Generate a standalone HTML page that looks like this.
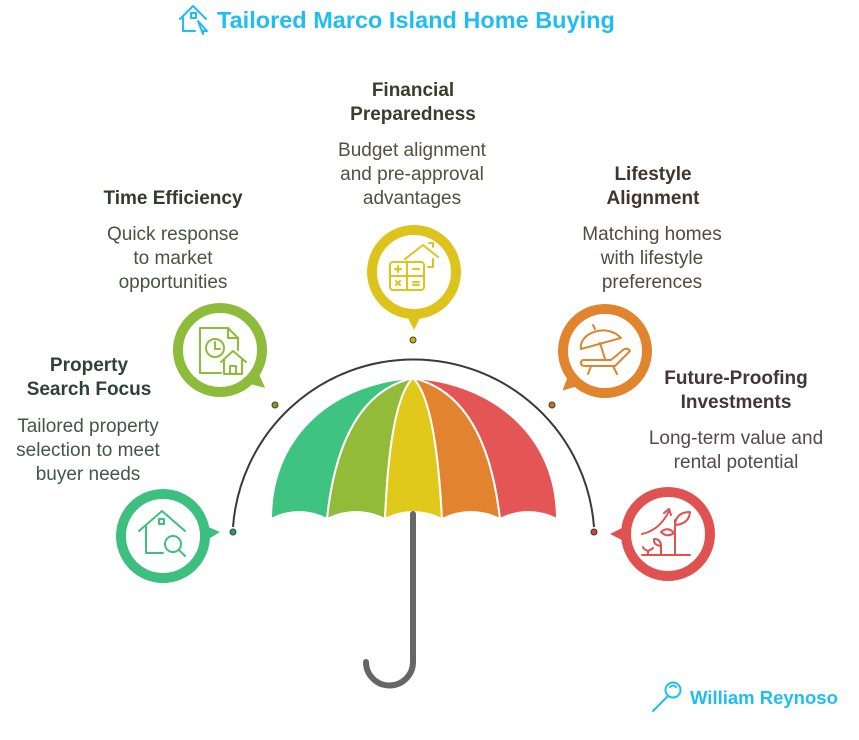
<!DOCTYPE html>
<html><head><meta charset="utf-8"><style>
html,body{margin:0;padding:0;background:#fff;}
svg{display:block;}
text{font-family:"Liberation Sans",Arial,sans-serif;}
.t{font-weight:bold;font-size:19px;}
.b{font-size:19px;}
</style></head><body>
<svg width="859" height="740" viewBox="0 0 859 740" xmlns="http://www.w3.org/2000/svg">
<!-- Title -->
<g fill="none" stroke="#20bdf2" stroke-width="2" stroke-linecap="round" stroke-linejoin="round">
<path d="M180,19 L193,6 L206,19"/>
<path d="M183,17 L183,31 L195,31"/>
<rect x="191" y="13" width="5" height="5"/>
<path d="M198,21 L207,31 L203,31 L203,34 Z"/>
</g>
<text x="217" y="28" font-size="23.5" font-weight="bold" fill="#20bdf2" font-family="Liberation Sans, Arial, sans-serif">Tailored Marco Island Home Buying</text>

<!-- connector arc -->
<path d="M233,527 A181,181 0 0 1 594,527" fill="none" stroke="#3a3a3a" stroke-width="2"/>
<circle cx="233" cy="532" r="3" fill="#2f9a66" stroke="#2a4a3a" stroke-width="1"/>
<circle cx="275" cy="405" r="3" fill="#7f9a2f" stroke="#3f4a2a" stroke-width="1"/>
<circle cx="413" cy="340" r="3" fill="#c6b11a" stroke="#4a4620" stroke-width="1"/>
<circle cx="552" cy="405" r="3" fill="#c4702a" stroke="#4a3a2a" stroke-width="1"/>
<circle cx="594" cy="532" r="3" fill="#c24848" stroke="#4a2a2a" stroke-width="1"/>

<!-- Umbrella canopy panels -->
<g stroke="#fff" stroke-width="2" stroke-linejoin="round">
<path d="M413,378 C340,382 271,430 271,519 Q299,505 327,519 Q340,395 413,378 Z" fill="#3fc381"/>
<path d="M413,378 Q340,395 327,519 Q356,505 385,519 Q390,400 413,378 Z" fill="#93bb3a"/>
<path d="M413,378 Q390,400 385,519 Q413,505 442,519 Q436,400 413,378 Z" fill="#e0c91a"/>
<path d="M413,378 Q436,400 442,519 Q471,505 500,519 Q486,395 413,378 Z" fill="#e2842f"/>
<path d="M413,378 Q486,395 500,519 Q528,505 557,519 C557,430 486,382 413,378 Z" fill="#e45656"/>
</g>
<!-- handle -->
<path d="M413,514 L413,662 A23.5,23.5 0 0 1 366,662" fill="none" stroke="#666" stroke-width="6" stroke-linecap="round"/>

<!-- Circles -->
<!-- green -->
<polygon points="201,526 220,536 201,546" fill="#3dbf80" transform="rotate(-4 163 536)"/>
<circle cx="163" cy="536" r="42" fill="#fff" stroke="#3dbf80" stroke-width="10"/>
<g fill="none" stroke="#3dbf80" stroke-width="2" stroke-linecap="round" stroke-linejoin="round">
<path d="M139,531 L162,511 L185,531"/>
<path d="M146,526 L146,553 L163,553"/>
<rect x="159" y="519" width="5" height="5"/>
<circle cx="173" cy="544" r="8"/>
<path d="M179,550 L185,556"/>
</g>
<!-- time (olive) -->
<polygon points="258,340 279,350 258,360" fill="#8dbb3a" transform="rotate(40 220 350)"/>
<circle cx="220" cy="350" r="42" fill="#fff" stroke="#8dbb3a" stroke-width="10"/>
<g fill="none" stroke="#8dbb3a" stroke-width="2" stroke-linecap="round" stroke-linejoin="round">
<path d="M221,373 L200,373 L200,328 L228,328 L238,338 L238,350"/>
<path d="M228,328 L228,338 L238,338"/>
<circle cx="215" cy="348" r="9" fill="#fff"/>
<path d="M215,342 L215,349 L220,349"/>
<path d="M221,362 L233,351 L246,362" />
<path d="M224,359 L224,374 L242,374 L242,359"/>
<path d="M230,374 L230,366 L236,366 L236,374"/>
</g>
<!-- financial (yellow) -->
<polygon points="452,262 472,272 452,282" fill="#dcc41c" transform="rotate(90 414 272)"/>
<circle cx="414" cy="272" r="42" fill="#fff" stroke="#dcc41c" stroke-width="10"/>
<g fill="none" stroke="#dcc41c" stroke-width="2" stroke-linecap="round" stroke-linejoin="round">
<rect x="390" y="262" width="34" height="28" rx="3"/>
<path d="M407,262 L407,290 M390,276 L424,276"/>
<path d="M395,269 L401,269 M398,266 L398,272"/>
<path d="M413,269 L419,269"/>
<path d="M396,281 L400,285 M400,281 L396,285"/>
<path d="M413,282 L419,282 M413,285 L419,285"/>
<path d="M405,259 L423,245 L438,257"/>
<path d="M429,243 L433,243 L433,247"/>
<path d="M433,259 L433,267 L428,267"/>
</g>
<!-- lifestyle (orange) -->
<polygon points="643,341 663,351 643,361" fill="#e0852e" transform="rotate(137 605 351)"/>
<circle cx="605" cy="351" r="42" fill="#fff" stroke="#e0852e" stroke-width="10"/>
<g fill="none" stroke="#e0852e" stroke-width="2" stroke-linecap="round" stroke-linejoin="round">
<path d="M581,349 C578,334 606,322 621,338 Z"/>
<path d="M600,343 L605,359"/>
<path d="M595,329 L593,325"/>
<path d="M584,360 L611,360 L623,350 Q627,347 630,351 L615,366 L586,366 Q581,366 581,363 Q581,360 584,360 Z"/>
<path d="M591,366 L588,374 M613,366 L617,374"/>
</g>
<!-- future (red) -->
<polygon points="630,524 610,534 630,544" fill="#e05252"/>
<circle cx="668" cy="534" r="42" fill="#fff" stroke="#e05252" stroke-width="10"/>
<g fill="none" stroke="#e05252" stroke-width="2" stroke-linecap="round" stroke-linejoin="round">
<path d="M642,555 L690,555"/>
<path d="M675,555 L675,520"/>
<path d="M675,525 Q676,512 690,512 Q689,524 675,525 Z"/>
<path d="M674,533 Q668,526 661,532 Q667,538 674,533 Z"/>
<path d="M661,555 L661,546"/>
<path d="M661,546 Q653,545 654,539 Q661,539 661,546 Z"/>
<path d="M648,555 L648,551 Q643,549 643,547 M648,551 Q652,549 653,548"/>
<path d="M642,534 Q660,530 669,511"/>
<path d="M664,513 L669,509 L671,515"/>
</g>

<!-- Texts -->
<g text-anchor="middle">
<text class="t" x="173" y="204" fill="#333b2b">Time Efficiency</text>
<text class="b" x="173" y="240" fill="#4b5242">Quick response</text>
<text class="b" x="173" y="264" fill="#4b5242">to market</text>
<text class="b" x="173" y="288" fill="#4b5242">opportunities</text>

<text class="t" x="89" y="371" fill="#2e4236">Property</text>
<text class="t" x="89" y="395" fill="#2e4236">Search Focus</text>
<text class="b" x="88" y="432" fill="#44564b">Tailored property</text>
<text class="b" x="88" y="456" fill="#44564b">selection to meet</text>
<text class="b" x="88" y="480" fill="#44564b">buyer needs</text>

<text class="t" x="413" y="96" fill="#3d3b2c">Financial</text>
<text class="t" x="413" y="120" fill="#3d3b2c">Preparedness</text>
<text class="b" x="412" y="156" fill="#52503e">Budget alignment</text>
<text class="b" x="412" y="180" fill="#52503e">and pre-approval</text>
<text class="b" x="412" y="204" fill="#52503e">advantages</text>

<text class="t" x="653" y="180" fill="#42352b">Lifestyle</text>
<text class="t" x="653" y="204" fill="#42352b">Alignment</text>
<text class="b" x="652" y="240" fill="#55483e">Matching homes</text>
<text class="b" x="652" y="264" fill="#55483e">with lifestyle</text>
<text class="b" x="652" y="288" fill="#55483e">preferences</text>

<text class="t" x="736" y="384" fill="#45343a">Future-Proofing</text>
<text class="t" x="736" y="408" fill="#45343a">Investments</text>
<text class="b" x="736" y="444" fill="#58474d">Long-term value and</text>
<text class="b" x="736" y="468" fill="#58474d">rental potential</text>
</g>

<!-- footer -->
<g fill="none" stroke="#20bdf2" stroke-width="2" stroke-linecap="round">
<circle cx="673" cy="690" r="7.5"/>
<path d="M668,696 L653,711"/>
<path d="M670,687 Q673,684 676,687"/>
</g>
<text x="690" y="704" font-size="18.5" font-weight="bold" fill="#20bdf2" font-family="Liberation Sans, Arial, sans-serif">William Reynoso</text>
</svg>
</body></html>
